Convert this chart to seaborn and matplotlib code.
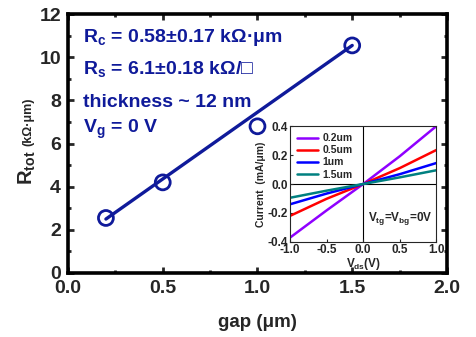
import numpy as np
import pandas as pd
import matplotlib
matplotlib.use("Agg")
import matplotlib.pyplot as plt
import seaborn as sns
from matplotlib.ticker import MultipleLocator

# ---- data ----
gap = [0.2, 0.5, 1.0, 1.5]
r_tot = [2.55, 4.2, 6.8, 10.55]
fit_gap = [0.2, 1.5]
fit_r = [2.5, 10.55]

vds = [-1.0, -0.5, 0.0, 0.5, 1.0]
iv_labels = ["0.2um", "0.5um", "1um", "1.5um"]
i_02 = [-0.37, -0.182, 0.0, 0.192, 0.40]
i_05 = [-0.22, -0.102, 0.0, 0.110, 0.235]
i_10 = [-0.14, -0.066, 0.0, 0.068, 0.145]
i_15 = [-0.095, -0.046, 0.0, 0.046, 0.095]
iv_colors = ["#8F00FF", "#FF0000", "#0000FF", "#008080"]

annot = [r"R$_\mathregular{c}$ = 0.58±0.17 kΩ·μm",
         r"R$_\mathregular{s}$ = 6.1±0.18 kΩ/□",
         "thickness ~ 12 nm",
         r"V$_\mathregular{g}$ = 0 V"]

sns.set_theme(style="ticks")
plt.rcParams["font.family"] = ["Liberation Sans", "DejaVu Sans"]
plt.rcParams["font.weight"] = "bold"
plt.rcParams["mathtext.fontset"] = "custom"
plt.rcParams["mathtext.rm"] = "Liberation Sans:bold"
plt.rcParams["mathtext.bf"] = "Liberation Sans:bold"
plt.rcParams["mathtext.default"] = "regular"

navy = "#0F1A9A"

fig = plt.figure(figsize=(4.77, 3.37), dpi=100)
ax = fig.add_axes([0.1426, 0.19, 0.937 - 0.1426, 0.958 - 0.19])

df_pts = pd.DataFrame({"gap": gap, "r": r_tot})
df_fit = pd.DataFrame({"gap": fit_gap, "r": fit_r})
sns.lineplot(data=df_fit, x="gap", y="r", ax=ax, color=navy, linewidth=2.4, zorder=2)
sns.scatterplot(data=df_pts, x="gap", y="r", ax=ax, s=115, marker="o",
                facecolor="none", edgecolor=navy, linewidth=2.0, zorder=3)

ax.set_xlim(0, 2.0)
ax.set_ylim(0, 12)
ax.xaxis.set_major_locator(MultipleLocator(0.5))
ax.xaxis.set_minor_locator(MultipleLocator(0.25))
ax.yaxis.set_major_locator(MultipleLocator(2))
ax.yaxis.set_minor_locator(MultipleLocator(1))
ax.set_xticklabels([f"{v:.1f}" for v in ax.get_xticks()])
ax.tick_params(which="both", direction="in", top=True, right=True, width=2, labelsize=14, pad=5)
ax.tick_params(which="major", length=4)
ax.tick_params(which="minor", length=2)
for lab in ax.get_xticklabels() + ax.get_yticklabels():
    lab.set_fontweight("bold")
for sp in ax.spines.values():
    sp.set_linewidth(2.6)
    sp.set_color("black")
ax.set_xlabel("gap (μm)", fontsize=13.5, fontweight="bold", labelpad=12)
ax.set_ylabel("")
fig.text(0.058, (337 - 185) / 337, r"R$_\mathregular{tot}$", rotation=90, ha="center",
         va="bottom", fontsize=14.5, fontweight="bold")
fig.text(0.060, (337 - 146) / 337, "(kΩ·μm)", rotation=90, ha="center",
         va="bottom", fontsize=9, fontweight="bold")

ys = [0.894, 0.770, 0.643, 0.542]
for t, y in zip(annot, ys):
    ax.text(0.04, y, t, transform=ax.transAxes, color=navy, fontsize=14,
            fontweight="bold", va="baseline", ha="left")

# ---- inset ----
ins = fig.add_axes([0.608, 0.282, 0.915 - 0.608, 0.626 - 0.282])
rows = []
for lab, cur in zip(iv_labels, [i_02, i_05, i_10, i_15]):
    for v, c in zip(vds, cur):
        rows.append({"V": v, "I": c, "gap": lab})
df_iv = pd.DataFrame(rows)
sns.lineplot(data=df_iv, x="V", y="I", hue="gap", palette=iv_colors, ax=ins, linewidth=1.8)
ins.axhline(0, color="black", linewidth=0.8, zorder=0)
ins.axvline(0, color="black", linewidth=0.8, zorder=0)
ins.set_xlim(-1, 1)
ins.set_ylim(-0.4, 0.4)
ins.xaxis.set_major_locator(MultipleLocator(0.5))
ins.yaxis.set_major_locator(MultipleLocator(0.2))
ins.set_xticklabels([f"{v:.1f}" for v in ins.get_xticks()])
ins.set_yticklabels([f"{v:.1f}" for v in ins.get_yticks()])
ins.tick_params(direction="in", length=2, width=0.8, labelsize=8.5, pad=1.5)
for lab in ins.get_xticklabels() + ins.get_yticklabels():
    lab.set_fontweight("bold")
for sp in ins.spines.values():
    sp.set_linewidth(0.8)
ins.set_xlabel(r"V$_\mathregular{ds}$(V)", fontsize=8.5, fontweight="bold", labelpad=0)
ins.set_ylabel("Current  (mA/μm)", fontsize=7.5, fontweight="bold", labelpad=1)
leg = ins.legend(loc="upper left", frameon=False, fontsize=7.5, handlelength=2.0,
                 labelspacing=0.2, borderaxespad=0.3, handletextpad=0.4)
for t in leg.get_texts():
    t.set_fontweight("bold")
ins.text(0.97, 0.2, r"V$_\mathregular{tg}$=V$_\mathregular{bg}$=0V", transform=ins.transAxes,
         ha="right", va="center", fontsize=8.5, fontweight="bold")

fig.savefig("out.png", dpi=100)
